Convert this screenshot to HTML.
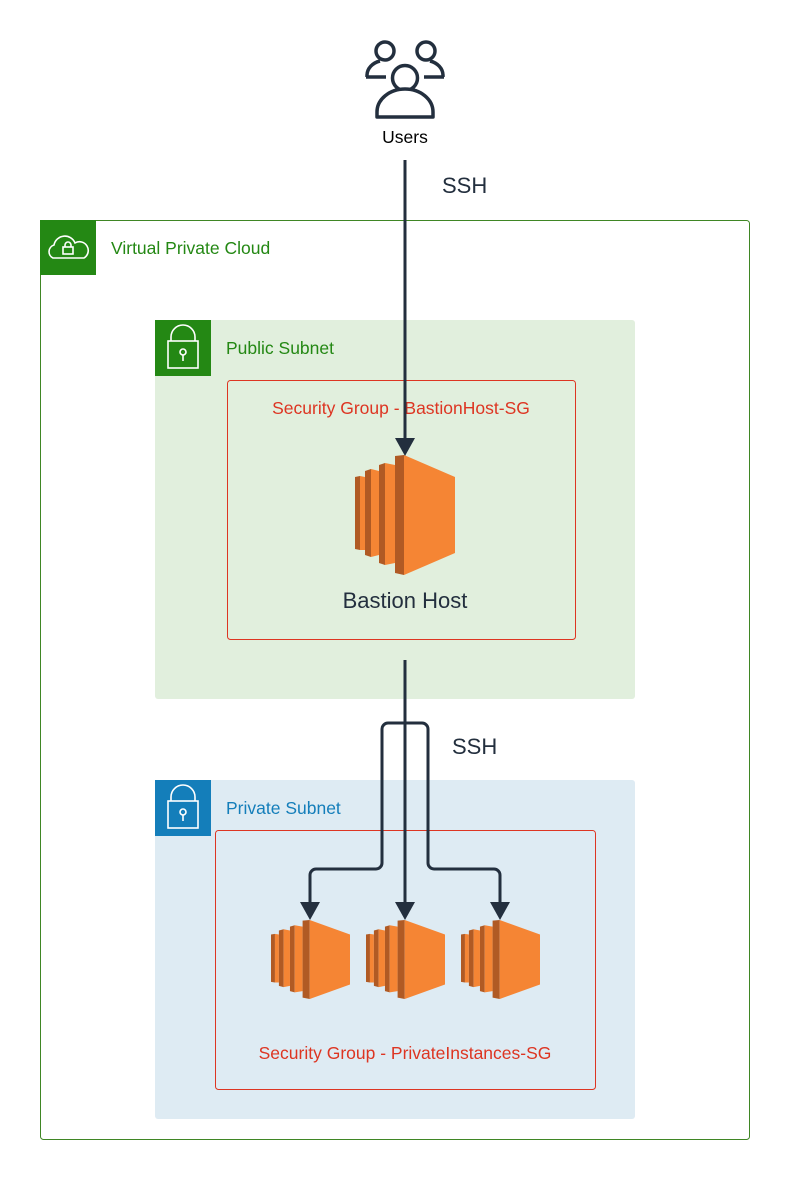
<!DOCTYPE html>
<html><head><meta charset="utf-8"><style>
body{margin:0;background:#fff;}
svg{display:block;font-family:"Liberation Sans",sans-serif;}
</style></head><body>
<svg width="790" height="1180" viewBox="0 0 790 1180" xmlns="http://www.w3.org/2000/svg">
<defs>
<symbol id="ec2" viewBox="0 0 100 120" preserveAspectRatio="none">
  <polygon points="0,22 5,21 5,95 0,94" fill="#b05a24"/>
  <polygon points="5,21 10,22 10,95 5,95" fill="#f58534"/>
  <polygon points="10,16 16,14 16,102 10,100" fill="#b05a24"/>
  <polygon points="16,14 24,16 24,100 16,102" fill="#f58534"/>
  <polygon points="24,10 30,8 30,110 24,108" fill="#b05a24"/>
  <polygon points="30,8 40,10 40,108 30,110" fill="#f58534"/>
  <polygon points="40,1 49,0 49,120 40,118" fill="#b05a24"/>
  <polygon points="49,0 100,22 100,98 49,120" fill="#f58534"/>
</symbol>
</defs>
<!-- Users icon -->
<g fill="none" stroke="#232f3e" stroke-width="3.5" stroke-linejoin="round">
  <circle cx="385" cy="51" r="9"/>
  <circle cx="426" cy="51" r="9"/>
  <path d="M367,77 v-2 a18,15 0 0 1 13,-14"/>
  <path d="M366,77 h20"/>
  <path d="M443,77 v-2 a18,15 0 0 0 -13,-14"/>
  <path d="M444,77 h-20"/>
  <circle cx="405" cy="78" r="12.5" fill="#fff"/>
  <path d="M377,117 v-5 a28,23 0 0 1 56,0 v5 z" fill="#fff"/>
</g>
<text x="405" y="143" font-size="17.5" text-anchor="middle" fill="#000">Users</text>
<text x="442" y="193" font-size="22" fill="#232f3e">SSH</text>
<!-- VPC -->
<rect x="40.5" y="220.5" width="709" height="919" rx="3" fill="none" stroke="#3f8624" stroke-width="1"/>
<rect x="40" y="220" width="56" height="55" fill="#248814"/>
<g fill="none" stroke="#fff" stroke-width="1.6">
  <path d="M53,258 a7,7 0 0 1 1,-13 a11,11 0 0 1 21,-2 a8,8 0 0 1 9,15 z"/>
  <rect x="63" y="247" width="10" height="7"/>
  <path d="M65,247 v-2 a3,3 0 0 1 6,0 v2"/>
</g>
<text x="111" y="254" font-size="17.5" fill="#248814">Virtual Private Cloud</text>
<!-- Public subnet -->
<rect x="155" y="320" width="480" height="379" rx="3" fill="#e1efdd"/>
<rect x="155" y="320" width="56" height="56" fill="#248814"/>
<g fill="none" stroke="#fff" stroke-width="1.6">
  <rect x="168" y="341" width="30" height="27"/>
  <path d="M171,341 v-4 a12,12 0 0 1 24,0 v4"/>
  <circle cx="183" cy="352" r="3"/>
  <path d="M183,355 v6"/>
</g>
<text x="226" y="354" font-size="17.5" fill="#248814">Public Subnet</text>
<rect x="227.5" y="380.5" width="348" height="259" rx="3" fill="none" stroke="#dd3522" stroke-width="1"/>
<text x="401" y="414" font-size="17.5" text-anchor="middle" fill="#dd3522">Security Group - BastionHost-SG</text>
<use href="#ec2" x="355" y="455" width="100" height="120"/>
<text x="405" y="608" font-size="22" text-anchor="middle" fill="#232f3e">Bastion Host</text>
<!-- Private subnet -->
<rect x="155" y="780" width="480" height="339" rx="3" fill="#deebf3"/>
<rect x="155" y="780" width="56" height="56" fill="#147eba"/>
<g fill="none" stroke="#fff" stroke-width="1.6">
  <rect x="168" y="801" width="30" height="27"/>
  <path d="M171,801 v-4 a12,12 0 0 1 24,0 v4"/>
  <circle cx="183" cy="812" r="3"/>
  <path d="M183,815 v6"/>
</g>
<text x="226" y="814" font-size="17.5" fill="#147eba">Private Subnet</text>
<rect x="215.5" y="830.5" width="380" height="259" rx="3" fill="none" stroke="#dd3522" stroke-width="1"/>
<text x="405" y="1059" font-size="17.5" text-anchor="middle" fill="#dd3522">Security Group - PrivateInstances-SG</text>
<use href="#ec2" x="271" y="920" width="79" height="79"/>
<use href="#ec2" x="366" y="920" width="79" height="79"/>
<use href="#ec2" x="461" y="920" width="79" height="79"/>
<text x="452" y="754" font-size="22" fill="#232f3e">SSH</text>
<!-- connectors -->
<g fill="none" stroke="#232f3e" stroke-width="3">
  <path d="M405,160 V442"/>
  <path d="M405,660 V904"/>
  <path d="M310,904 V875 a6,6 0 0 1 6,-6 H376 a6,6 0 0 0 6,-6 V729 a6,6 0 0 1 6,-6 H422 a6,6 0 0 1 6,6 V863 a6,6 0 0 0 6,6 H494 a6,6 0 0 1 6,6 V904"/>
</g>
<g fill="#232f3e">
  <polygon points="395,438 415,438 405,456"/>
  <polygon points="300,902 320,902 310,920"/>
  <polygon points="395,902 415,902 405,920"/>
  <polygon points="490,902 510,902 500,920"/>
</g>
</svg>
</body></html>
